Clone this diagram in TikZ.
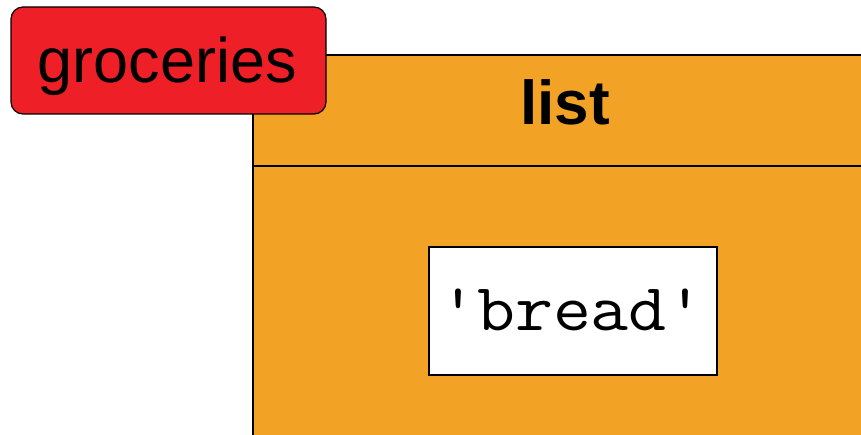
\documentclass[tikz,border=0pt]{standalone}
\usepackage{graphicx}
\usepackage{fontspec}
\setmainfont{Liberation Sans}
\definecolor{boxorange}{HTML}{F2A225}
\definecolor{tagred}{HTML}{EE1F26}
\begin{document}
\begin{tikzpicture}[x=1pt,y=-1pt,
  outline/.style={draw=black,line width=1.2pt},
  bigtext/.style={font=\fontsize{63}{70}\selectfont,inner sep=0pt}]
\useasboundingbox (0,0) rectangle (861,435);
\begin{scope}
\clip (0,0) rectangle (861,435);
\fill[boxorange] (253,55) rectangle (900,480);
\draw[outline] (253,480) -- (253,55) -- (900,55);
\draw[outline] (253,166) -- (900,166);
\end{scope}
\node[bigtext,font=\fontsize{62}{70}\selectfont\bfseries,anchor=base] (list) at (565,125) {list};
\node[outline,fill=white,minimum width=288pt,minimum height=128pt,inner sep=0pt] (item) at (573,311) {};
\node[bigtext,font=\fontsize{67}{75}\selectfont\ttfamily,anchor=base] (bread) at (572,330) {\scalebox{1.1}[1]{'bread'}};
\node[outline,fill=tagred,rounded corners=12pt,minimum width=315pt,minimum height=107pt,inner sep=0pt] (tag) at (168.5,60.5) {};
\node[bigtext,anchor=base] (groceries) at (167.5,83) {groceries};
\end{tikzpicture}
\end{document}
